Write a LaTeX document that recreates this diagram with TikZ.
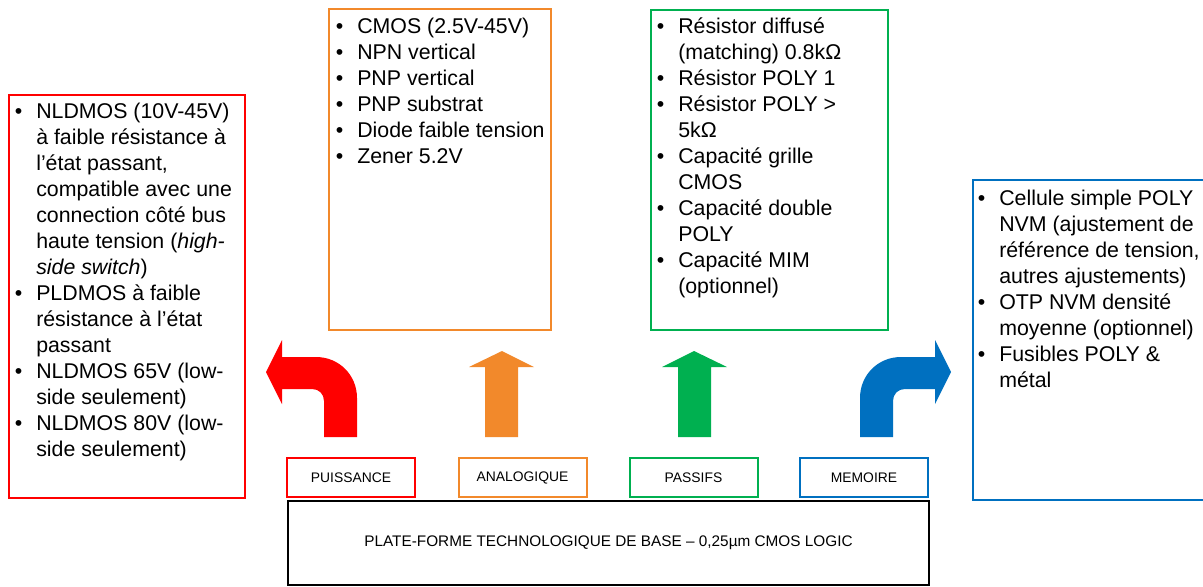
\documentclass[tikz,border=0pt]{standalone}
\usepackage{fontspec}
\setmainfont{Liberation Sans}
\definecolor{cred}{RGB}{255,0,0}
\definecolor{corange}{RGB}{242,137,43}
\definecolor{cgreen}{RGB}{0,176,80}
\definecolor{cblue}{RGB}{0,112,192}
\newcommand\bu{\leavevmode\llap{\textbullet\hspace{10.5pt}}}
\newcommand\lst[1]{\parbox[t]{300pt}{\raggedright #1}}
\begin{document}
\begin{tikzpicture}[x=0.75pt,y=-0.75pt,
  frame/.style={line width=1.5pt},
  listtext/.style={anchor=base west, inner sep=0pt, font=\fontsize{16}{19.5}\selectfont},
  lab/.style={draw, line width=1.5pt, minimum width=96pt, minimum height=29.25pt, inner sep=0pt, font=\fontsize{10.4}{12}\selectfont},
  basebox/.style={draw=black, line width=1.5pt, minimum width=480.75pt, minimum height=63pt, inner sep=0pt, font=\fontsize{11.5}{13}\selectfont}]
\useasboundingbox (0,0) rectangle (1203,586);

% big list boxes
\draw[frame, cred] (9,95) rectangle (245,498);
\draw[frame, corange] (329,9) rectangle (551,330);
\draw[frame, cgreen] (651,10) rectangle (888,330);
\draw[frame, cblue] (1205,180) -| (973,500) -- (1205,500);

\node[listtext] (tpuis) at (36,118) {\lst{%
\bu NLDMOS (10V-45V)\\
à faible résistance à\\
l’état passant,\\
compatible avec une\\
connection côté bus\\
haute tension (\textit{high-}\\
\textit{side switch})\\
\bu PLDMOS à faible\\
résistance à l’état\\
passant\\
\bu NLDMOS 65V (low-\\
side seulement)\\
\bu NLDMOS 80V (low-\\
side seulement)}};

\node[listtext] (tana) at (357,33) {\lst{%
\bu CMOS (2.5V-45V)\\
\bu NPN vertical\\
\bu PNP vertical\\
\bu PNP substrat\\
\bu Diode faible tension\\
\bu Zener 5.2V}};

\node[listtext] (tpass) at (678,33) {\lst{%
\bu Résistor diffusé\\
(matching) 0.8kΩ\\
\bu Résistor POLY 1\\
\bu Résistor POLY >\\
5kΩ\\
\bu Capacité grille\\
CMOS\\
\bu Capacité double\\
POLY\\
\bu Capacité MIM\\
(optionnel)}};

\node[listtext] (tmem) at (999,205) {\lst{%
\bu Cellule simple POLY\\
NVM (ajustement de\\
référence de tension,\\
autres ajustements)\\
\bu OTP NVM densité\\
moyenne (optionnel)\\
\bu Fusibles POLY \&\\
métal}};

% arrows
\fill[cred] (282,357) -- (316,357) .. controls (339,357) and (357,375) .. (357,398) -- (357,437) -- (324,437) -- (324,401) .. controls (324,394) and (319,389) .. (312,389) -- (282,389) -- (282,404) -- (266,372) -- (282,340) -- cycle;
\fill[corange] (485,437) -- (485,367) -- (469,367) -- (502,351) -- (534,367) -- (518,367) -- (518,437) -- cycle;
\fill[cgreen] (678,437) -- (678,367) -- (662,367) -- (694,351) -- (727,367) -- (711,367) -- (711,437) -- cycle;
\fill[cblue] (935,357) -- (901,357) .. controls (878,357) and (860,375) .. (860,398) -- (860,437) -- (893,437) -- (893,401) .. controls (893,394) and (898,389) .. (905,389) -- (935,389) -- (935,404) -- (951,372) -- (935,340) -- cycle;

% labels
\node[lab, draw=cred] (puis) at (351,477.5) {PUISSANCE};
\node[lab, draw=corange] (ana) at (522.5,477.5) {ANALOGIQUE};
\node[lab, draw=cgreen] (pass) at (693.5,477.5) {PASSIFS};
\node[lab, draw=cblue] (mem) at (864,477.5) {MEMOIRE};

\node[basebox] (base) at (608.5,543) {PLATE-FORME TECHNOLOGIQUE DE BASE – 0,25µm CMOS LOGIC};
\end{tikzpicture}
\end{document}
